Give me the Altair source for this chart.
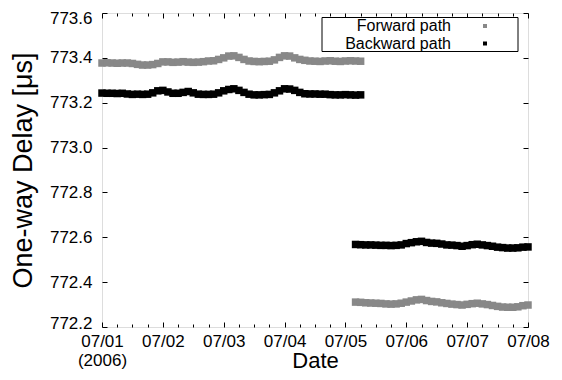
import json
import altair as alt
import pandas as pd

HOURS_1 = [0, 2, 4, 6, 8, 10, 12, 14, 16, 18, 20, 22, 24, 26, 28, 30, 32, 34, 36, 38,
           40, 42, 44, 46, 48, 50, 52, 54, 56, 58, 60, 62, 64, 66, 68, 70, 72, 74, 76, 78,
           80, 82, 84, 86, 88, 90, 92, 94, 96, 98, 100, 102]
FORWARD_1 = [773.377, 773.378, 773.377, 773.376, 773.377, 773.377, 773.375, 773.371, 773.368, 773.368,
             773.370, 773.375, 773.382, 773.382, 773.380, 773.381, 773.383, 773.381, 773.380, 773.381,
             773.383, 773.386, 773.387, 773.393, 773.400, 773.408, 773.409, 773.402, 773.393, 773.386,
             773.384, 773.383, 773.384, 773.385, 773.391, 773.402, 773.409, 773.408, 773.400, 773.393,
             773.389, 773.386, 773.385, 773.384, 773.386, 773.387, 773.385, 773.384, 773.386, 773.387,
             773.386, 773.385]
BACKWARD_1 = [773.243, 773.242, 773.242, 773.241, 773.242, 773.239, 773.237, 773.238, 773.237, 773.238,
              773.244, 773.253, 773.255, 773.248, 773.242, 773.242, 773.246, 773.250, 773.244, 773.238,
              773.237, 773.237, 773.238, 773.244, 773.253, 773.259, 773.262, 773.255, 773.246, 773.238,
              773.235, 773.235, 773.236, 773.237, 773.244, 773.253, 773.262, 773.261, 773.255, 773.246,
              773.240, 773.239, 773.239, 773.238, 773.238, 773.236, 773.235, 773.235, 773.236, 773.235,
              773.234, 773.235]

HOURS_2 = [100, 102, 104, 106, 108, 110, 112, 114, 116, 118, 120, 122, 124, 126, 128, 130, 132, 134,
           136, 138, 140, 142, 144, 146, 148, 150, 152, 154, 156, 158, 160, 162, 164, 166, 168]
FORWARD_2 = [772.311, 772.310, 772.308, 772.307, 772.306, 772.305, 772.303, 772.302, 772.303, 772.306,
             772.311, 772.316, 772.321, 772.323, 772.318, 772.314, 772.312, 772.308, 772.305, 772.302,
             772.300, 772.298, 772.301, 772.304, 772.306, 772.303, 772.300, 772.296, 772.292, 772.289,
             772.288, 772.288, 772.290, 772.295, 772.298]
BACKWARD_2 = [772.568, 772.567, 772.566, 772.566, 772.565, 772.564, 772.564, 772.563, 772.564, 772.566,
              772.572, 772.576, 772.580, 772.582, 772.577, 772.574, 772.573, 772.570, 772.566, 772.565,
              772.563, 772.560, 772.563, 772.567, 772.569, 772.566, 772.563, 772.560, 772.556, 772.554,
              772.552, 772.552, 772.553, 772.556, 772.557]

SERIES = ["Forward path", "Backward path"]
COLORS = ["#888888", "#000000"]
DAY_LABELS = ["07/01", "07/02", "07/03", "07/04", "07/05", "07/06", "07/07", "07/08"]
YEAR_LABEL = "(2006)"
DAY_TICKS = [0, 1, 2, 3, 4, 5, 6, 7]
Y_TICKS = [772.2, 772.4, 772.6, 772.8, 773.0, 773.2, 773.4, 773.6]

rows = []
for hours, vals, name in [(HOURS_1, FORWARD_1, SERIES[0]), (HOURS_2, FORWARD_2, SERIES[0]),
                          (HOURS_1, BACKWARD_1, SERIES[1]), (HOURS_2, BACKWARD_2, SERIES[1])]:
    for h, v in zip(hours, vals):
        rows.append({"hour": h, "delay": v, "path": name})
df = pd.DataFrame(rows)

minor_ticks = [d + q for d in range(7) for q in (0.25, 0.5, 0.75)]

FONT = "Liberation Sans"
x_scale = alt.Scale(domain=[0, 7], nice=False, zero=False)
y_scale = alt.Scale(domain=[772.2, 773.6], nice=False, zero=False)

label_expr = ("datum.value == 0 ? [" + json.dumps(DAY_LABELS[0]) + ", " + json.dumps(YEAR_LABEL) + "] : "
              + json.dumps(DAY_LABELS) + "[round(datum.value)]")

# nudge the end labels of the y axis so they stay inside the canvas / clear of the x labels
y_label_offset = {
    "condition": [
        {"test": "datum.value > 773.55", "value": 5},
        {"test": "datum.value < 772.25", "value": -4},
    ],
    "value": 0,
}

base = alt.Chart(df).transform_calculate(day="datum.hour / 24")

points = base.mark_square(size=56, opacity=1, filled=True).encode(
    x=alt.X("day:Q", scale=x_scale,
            axis=alt.Axis(orient="bottom", values=DAY_TICKS, labelExpr=label_expr, ticks=False,
                          domain=False, grid=False, labelPadding=6, labelFontSize=17,
                          labelLineHeight=19, labelFlush=False, labelOverlap=False,
                          title="Date", titleFontSize=22, titleFontWeight="normal",
                          titleY=40, titleBaseline="alphabetic")),
    y=alt.Y("delay:Q", scale=y_scale,
            axis=alt.Axis(orient="left", values=Y_TICKS, format=".1f", ticks=False, domain=False,
                          grid=False, labelPadding=10, labelFontSize=17, labelOverlap=False,
                          labelOffset=y_label_offset,
                          title="One-way Delay [μs]", titleFontSize=27, titleFontWeight="normal",
                          titleX=-79, titleBaseline="middle")),
    color=alt.Color("path:N", scale=alt.Scale(domain=SERIES, range=COLORS), legend=None),
)


def tick_layer(x_axis, y_axis):
    return base.mark_square(opacity=0).encode(
        x=alt.X("day:Q", scale=x_scale, axis=x_axis),
        y=alt.Y("delay:Q", scale=y_scale, axis=y_axis),
    )


def inward(orient, values, size):
    return alt.Axis(orient=orient, values=values, offset=-size, tickSize=size, labels=False,
                    domain=False, grid=False, title=None, tickColor="black", tickWidth=1)


layer2 = tick_layer(inward("bottom", DAY_TICKS, 5), inward("left", Y_TICKS, 5))
layer3 = tick_layer(inward("bottom", minor_ticks, 3), inward("right", Y_TICKS, 5))
layer4 = tick_layer(inward("top", DAY_TICKS, 5), None)
layer5 = tick_layer(inward("top", minor_ticks, 3), None)

# key box drawn in the upper right, gnuplot style (label on the left, symbol on the right)
legend_box = alt.Chart(pd.DataFrame({"path": [SERIES[0]]})).mark_rect(
    fill="white", stroke="black", strokeWidth=1
).encode(x=alt.value(220), x2=alt.value(416), y=alt.value(4.5), y2=alt.value(38.5))

legend_layers = [legend_box]
for i, name in enumerate(SERIES):
    entry = alt.Chart(pd.DataFrame({"path": [name]}))
    legend_layers.append(entry.mark_text(align="right", baseline="middle", fontSize=16, font=FONT,
                                         color="black").encode(
        x=alt.value(349), y=alt.value(13 + 17.5 * i), text="path:N"))
    legend_layers.append(entry.mark_square(size=16, opacity=1, filled=True, color=COLORS[i]).encode(
        x=alt.value(383), y=alt.value(13 + 17.5 * i)))

chart = alt.layer(points, layer2, layer3, layer4, layer5, *legend_layers).resolve_axis(
    x="independent", y="independent"
).properties(
    width=426, height=314, autosize="none",
    padding={"left": 94, "top": 5, "right": 26, "bottom": 45},
).configure_view(
    stroke="black", strokeWidth=1
).configure_axis(
    labelFont=FONT, titleFont=FONT, labelColor="black", titleColor="black"
).configure(background="white")

chart.save("out.html", embed_options={"renderer": "svg", "actions": False})
